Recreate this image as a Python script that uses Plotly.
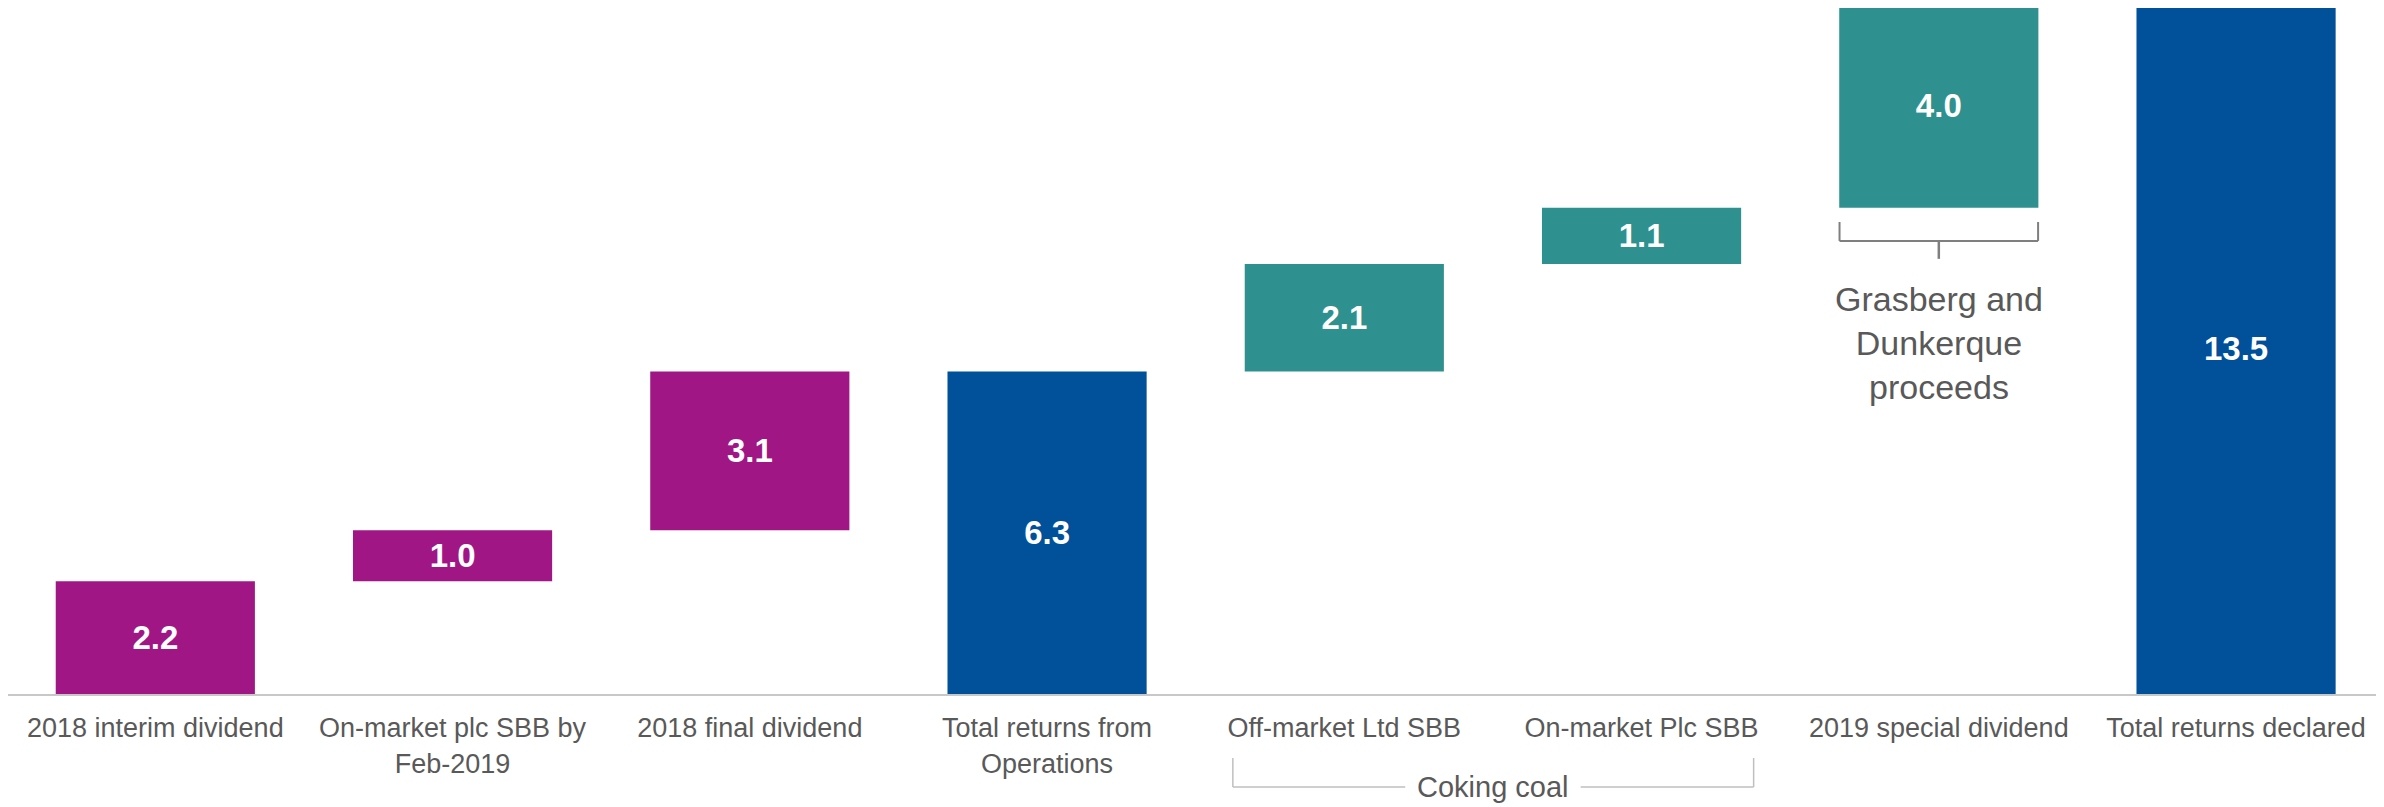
import plotly.graph_objects as go

categories = ["2018 interim dividend", "On-market plc SBB by<br>Feb-2019", "2018 final dividend",
              "Total returns from<br>Operations", "Off-market Ltd SBB", "On-market Plc SBB",
              "2019 special dividend", "Total returns declared"]
values = [2.2, 1.0, 3.1, 6.3, 2.1, 1.1, 4.0, 13.5]
measures = ["relative", "relative", "relative", "total", "relative", "relative", "relative", "total"]
labels = ["2.2", "1.0", "3.1", "6.3", "2.1", "1.1", "4.0", "13.5"]

PURPLE = "#A11685"
TEAL = "#2E918F"
BLUE = "#00509A"
colors = [PURPLE, PURPLE, PURPLE, BLUE, TEAL, TEAL, TEAL, BLUE]

# compute bases from the waterfall logic
bases, heights = [], []
running = 0.0
for v, m in zip(values, measures):
    if m == "total":
        bases.append(0.0)
        heights.append(v)
        running = v
    else:
        bases.append(running)
        heights.append(v)
        running += v

x = list(range(len(categories)))

fig = go.Figure()
fig.add_trace(go.Bar(
    x=x, y=heights, base=bases, width=0.67,
    marker=dict(color=colors, line=dict(width=0)),
    text=labels, textposition="inside", insidetextanchor="middle",
    textfont=dict(family="Liberation Sans, Arial", size=33, color="white", weight="bold"),
    constraintext="none", hoverinfo="skip",
))

GRAY_TXT = "#595959"
shapes = []
# Grasberg bracket (under the special dividend bar)
bl, br, bc = 6 - 0.334, 6 + 0.334, 6
shapes += [
    dict(type="line", xref="x", yref="y", x0=bl, x1=bl, y0=9.22, y1=8.85, line=dict(color="#7F7F7F", width=2)),
    dict(type="line", xref="x", yref="y", x0=br, x1=br, y0=9.22, y1=8.85, line=dict(color="#7F7F7F", width=2)),
    dict(type="line", xref="x", yref="y", x0=bl, x1=br, y0=8.85, y1=8.85, line=dict(color="#7F7F7F", width=2)),
    dict(type="line", xref="x", yref="y", x0=bc, x1=bc, y0=8.85, y1=8.50, line=dict(color="#7F7F7F", width=2.5)),
]
# Coking coal bracket (below the axis)
cl, cr = 3.625, 5.377
ytop, ybot = -0.0933, -0.1356
shapes += [
    dict(type="line", xref="x", yref="paper", x0=cl, x1=cl, y0=ytop, y1=ybot, line=dict(color="#BFBFBF", width=1.5)),
    dict(type="line", xref="x", yref="paper", x0=cr, x1=cr, y0=ytop, y1=ybot, line=dict(color="#BFBFBF", width=1.5)),
    dict(type="line", xref="x", yref="paper", x0=cl, x1=4.205, y0=ybot, y1=ybot, line=dict(color="#BFBFBF", width=1.5)),
    dict(type="line", xref="x", yref="paper", x0=4.795, x1=cr, y0=ybot, y1=ybot, line=dict(color="#BFBFBF", width=1.5)),
]

annotations = [
    dict(x=6, y=6.86, xref="x", yref="y", text="Grasberg and<br>Dunkerque<br>proceeds",
         showarrow=False, xanchor="center", yanchor="middle",
         font=dict(family="Liberation Sans, Arial", size=34, color=GRAY_TXT)),
    dict(x=4.5, y=ybot, xref="x", yref="paper", text="Coking coal",
         showarrow=False, xanchor="center", yanchor="middle",
         font=dict(family="Liberation Sans, Arial", size=29, color=GRAY_TXT)),
]

fig.update_layout(
    width=2384, height=807,
    margin=dict(l=0, r=0, t=0, b=121, autoexpand=False),
    paper_bgcolor="white", plot_bgcolor="white",
    showlegend=False,
    bargap=0.33,
    shapes=shapes, annotations=annotations,
    xaxis=dict(
        tickmode="array", tickvals=x, ticktext=categories,
        range=[-0.4956, 7.5246], automargin=False,
        showgrid=False, zeroline=False, showline=True, linecolor="#C8C8C8", linewidth=2,
        ticks="", ticklabelstandoff=9,
        tickfont=dict(family="Liberation Sans, Arial", size=27, color=GRAY_TXT),
        fixedrange=True,
    ),
    yaxis=dict(range=[0, 13.40], visible=False, showgrid=False, zeroline=False,
               automargin=False, fixedrange=True),
)

fig.write_html("out.html")
